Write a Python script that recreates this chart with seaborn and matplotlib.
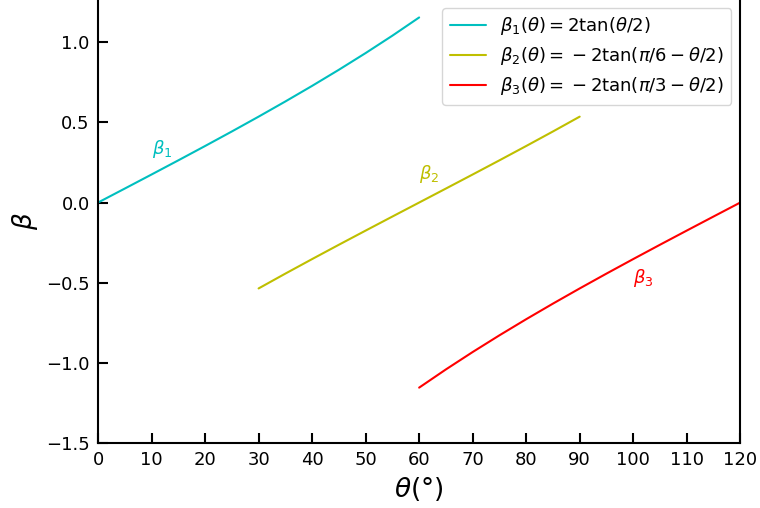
import numpy as np
import pandas as pd
import seaborn as sns
import matplotlib
matplotlib.use("Agg")
import matplotlib.pyplot as plt

# Sampled curves (θ in degrees, β values)
theta1 = [0, 5, 10, 15, 20, 25, 30, 35, 40, 45, 50, 55, 60]
beta1 = [0.0, 0.0873, 0.1750, 0.2633, 0.3527, 0.4434, 0.5359, 0.6306,
         0.7279, 0.8284, 0.9326, 1.0411, 1.1547]

theta2 = [30, 35, 40, 45, 50, 55, 60, 65, 70, 75, 80, 85, 90]
beta2 = [-0.5359, -0.4434, -0.3527, -0.2633, -0.1750, -0.0873, 0.0,
         0.0873, 0.1750, 0.2633, 0.3527, 0.4434, 0.5359]

theta3 = [60, 65, 70, 75, 80, 85, 90, 95, 100, 105, 110, 115, 120]
beta3 = [-1.1547, -1.0411, -0.9326, -0.8284, -0.7279, -0.6306, -0.5359,
         -0.4434, -0.3527, -0.2633, -0.1750, -0.0873, 0.0]

labels = [r"$\beta_1(\theta) = 2\tan(\theta/2)$",
          r"$\beta_2(\theta) = \:-\: 2\tan(\pi/6 - \theta/2)$",
          r"$\beta_3(\theta) = \:-\: 2\tan(\pi/3 - \theta/2)$"]
colors = ["#00bfbf", "#bfbf00", "#ff0000"]
short_names = [r"$\beta_1$", r"$\beta_2$", r"$\beta_3$"]
tag_pos = [(10, 0.3), (60, 0.15), (100, -0.5)]

xticks = list(range(0, 121, 10))
yticks = [-1.5, -1.0, -0.5, 0.0, 0.5, 1.0]

sns.set_theme(style="ticks")
plt.rcParams["font.family"] = ["DejaVu Sans"]
plt.rcParams["text.color"] = "black"

fig = plt.figure(figsize=(7.6, 5.08), dpi=100)
ax = fig.add_axes([0.129, 0.128, 0.845, 0.874])

frames = [
    pd.DataFrame({"theta": theta1, "beta": beta1}),
    pd.DataFrame({"theta": theta2, "beta": beta2}),
    pd.DataFrame({"theta": theta3, "beta": beta3}),
]
for df, col, lab in zip(frames, colors, labels):
    sns.lineplot(data=df, x="theta", y="beta", color=col, label=lab,
                 linewidth=1.5, ax=ax)

for name, (tx, ty), col in zip(short_names, tag_pos, colors):
    ax.text(tx, ty, name, color=col, fontsize=13)

ax.set_xlim(0, 120)
ax.set_ylim(-1.5, 1.27)
ax.set_xticks(xticks)
ax.set_yticks(yticks)
ax.set_xlabel(r"$\theta(°)$", fontsize=19, color="black")
ax.set_ylabel(r"$\beta$", fontsize=19, color="black")
ax.tick_params(axis="both", direction="in", length=7.5, width=1.5,
               labelsize=13, colors="black", pad=6,
               bottom=True, left=True, top=False, right=False)
for sp in ax.spines.values():
    sp.set_color("black")
    sp.set_linewidth(1.5)

leg = ax.legend(loc="upper right", fontsize=13, frameon=True,
                handlelength=2.0, borderaxespad=0.5, labelspacing=0.45)
for t in leg.get_texts():
    t.set_color("black")

fig.savefig("out.png", dpi=100)
